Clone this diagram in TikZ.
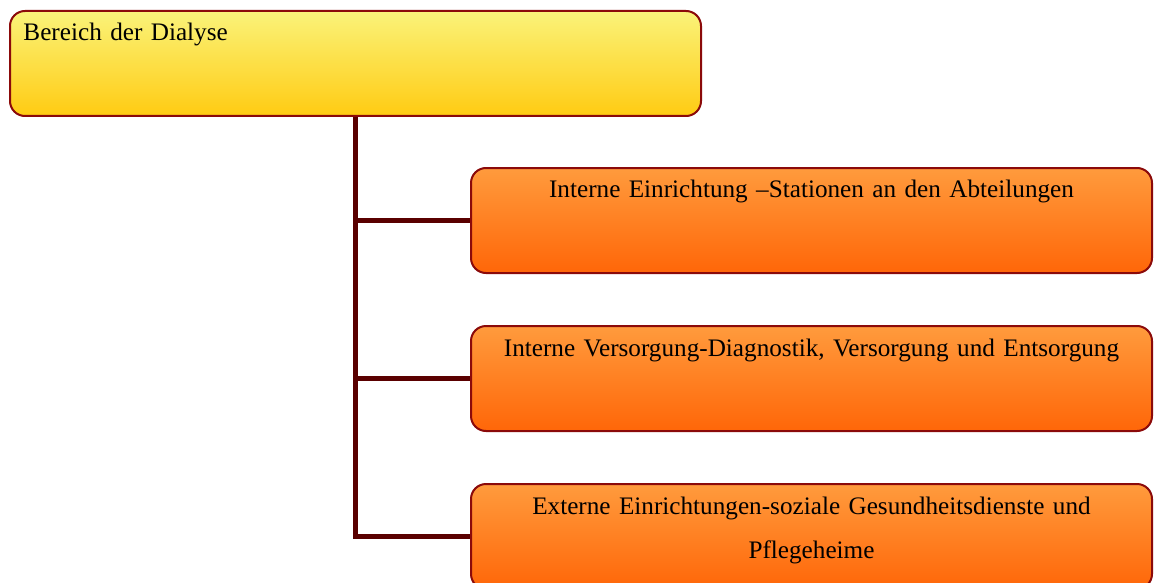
\documentclass[tikz,border=0pt]{standalone}
\usepackage{fontspec}
\setmainfont{Liberation Serif}
\definecolor{boxred}{HTML}{8B0A0A}
\definecolor{linered}{HTML}{5A0000}
\definecolor{yeltop}{HTML}{FAF37A}
\definecolor{yelbot}{HTML}{FFCB12}
\definecolor{oratop}{HTML}{FF9B3D}
\definecolor{orabot}{HTML}{FF6608}
\begin{document}
\begin{tikzpicture}[x=0.5pt,y=-0.5pt,
  every node/.style={font=\fontsize{12.6}{22}\selectfont},
  rootbox/.style={draw=boxred, line width=1pt, rounded corners=7.5pt,
    top color=yeltop, bottom color=yelbot, anchor=north west,
    minimum width=345.5pt, text width=332pt, align=left,
    inner xsep=6.5pt, inner ysep=6pt, text height=9pt, text depth=31.5pt},
  childbox/.style={draw=boxred, line width=1pt, rounded corners=7.5pt,
    top color=oratop, bottom color=orabot, anchor=north west,
    minimum width=340.5pt, text width=325pt, align=center,
    inner xsep=6.5pt, inner ysep=6pt, text height=9pt, text depth=31.5pt},
  conn/.style={draw=linered, line width=2.5pt}]
\useasboundingbox (0,0) rectangle (1156,583);
\node[rootbox] (dial) at (9,10) {Bereich der Dialyse};
\node[childbox] (intein) at (470,167) {Interne Einrichtung –Stationen an den Abteilungen};
\node[childbox] (intvers) at (470,325) {Interne Versorgung-Diagnostik, Versorgung und Entsorgung};
\node[childbox] (extein) at (470,483) {Externe Einrichtungen-soziale Gesundheitsdienste und\\Pflegeheime};
\coordinate (trunk) at (355,0);
\draw[conn] (dial.south -| trunk) |- (extein.west);
\draw[conn] (trunk |- intein.west) -- (intein.west);
\draw[conn] (trunk |- intvers.west) -- (intvers.west);
\end{tikzpicture}
\end{document}
